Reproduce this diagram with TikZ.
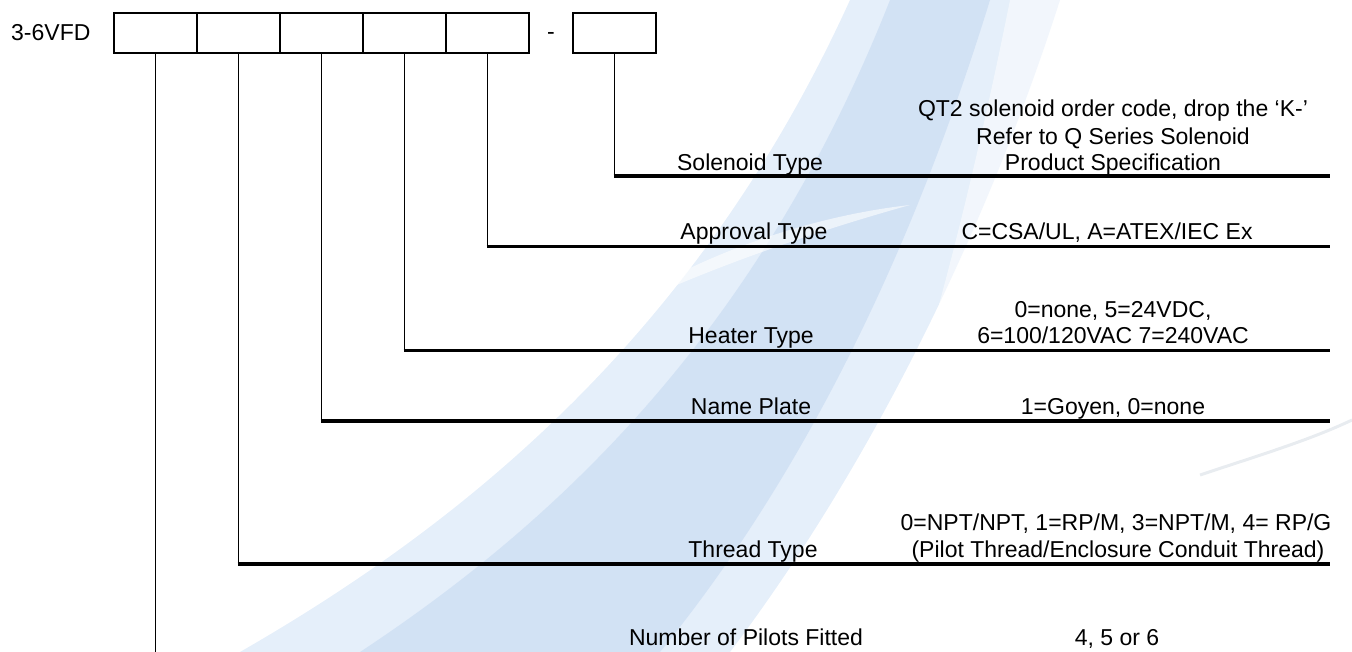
\documentclass[tikz,border=0pt]{standalone}
\usepackage{fontspec}
\setmainfont{Liberation Sans}
\definecolor{swA}{RGB}{226,237,249}
\definecolor{swB}{RGB}{206,223,244}
\definecolor{swC}{RGB}{232,236,240}
\begin{document}
\begin{tikzpicture}[x=1pt,y=-1pt,
  box/.style={draw,line width=2.8pt,minimum width=83pt,minimum height=40pt,inner sep=0pt},
  lead/.style={line width=1.6pt},
  rail/.style={line width=3.2pt},
  lbl/.style={font=\fontsize{23}{27}\selectfont,inner sep=0pt,anchor=base},
]
\useasboundingbox (0,0) rectangle (1352,652);
% watermark swoosh
\fill[swA,opacity=0.9]
  (240,652) .. controls (470,520) and (700,330) .. (850,0)
  -- (1060,0) .. controls (980,250) and (860,480) .. (730,652) -- cycle;
\fill[swB,opacity=0.8]
  (360,652) .. controls (560,520) and (760,330) .. (890,0)
  -- (990,0) .. controls (910,260) and (800,480) .. (660,652) -- cycle;
\fill[white,opacity=0.6]
  (600,320) .. controls (700,250) and (820,215) .. (910,205)
  .. controls (820,230) and (700,270) .. (600,320) -- cycle;
\fill[white,opacity=0.5]
  (820,652) .. controls (880,520) and (950,300) .. (1010,0)
  -- (1060,0) .. controls (1000,300) and (930,520) .. (870,652) -- cycle;
\draw[swC,line width=3pt]
  (1200,475) .. controls (1260,455) and (1310,440) .. (1352,420);

% boxes
\foreach \i in {1,...,5} \node[box] (b\i) at ({114+83*(\i-0.5)},33) {};
\node[box] (b6) at (614.5,33) {};
\node[lbl,anchor=west] (code) at (11,33) {3-6VFD};
\node[lbl] (dash) at (551,40) {-};

% rail ends
\coordinate (r6) at (1330,176);
\coordinate (r5) at (1330,246.5);
\coordinate (r4) at (1330,350.5);
\coordinate (r3) at (1330,421);
\coordinate (r2) at (1330,564);
\coordinate (r1) at (155.5,652);

\draw[lead] (b6.south) -- (b6.south |- r6);
\draw[rail] ([xshift=-0.8pt]b6.south |- r6) -- (r6);
\draw[lead] (b5.south) -- (b5.south |- r5);
\draw[rail] ([xshift=-0.8pt]b5.south |- r5) -- (r5);
\draw[lead] (b4.south) -- (b4.south |- r4);
\draw[rail] ([xshift=-0.8pt]b4.south |- r4) -- (r4);
\draw[lead] (b3.south) -- (b3.south |- r3);
\draw[rail] ([xshift=-0.8pt]b3.south |- r3) -- (r3);
\draw[lead] (b2.south) -- (b2.south |- r2);
\draw[rail] ([xshift=-0.8pt]b2.south |- r2) -- (r2);
\draw[lead] (b1.south) -- (r1);

% labels
\node[lbl] (t6) at (750,171) {Solenoid Type};
\node[lbl] (v6a) at (1113,117) {QT2 solenoid order code, drop the ‘K-’};
\node[lbl] (v6b) at (1113,145) {Refer to Q Series Solenoid};
\node[lbl] (v6c) at (1113,171) {Product Specification};
\node[lbl] (t5) at (754,240) {Approval Type};
\node[lbl] (v5) at (1107,240) {C=CSA/UL, A=ATEX/IEC Ex};
\node[lbl] (t4) at (751,344) {Heater Type};
\node[lbl] (v4a) at (1113,317) {0=none, 5=24VDC,};
\node[lbl] (v4b) at (1113,344) {6=100/120VAC 7=240VAC};
\node[lbl] (t3) at (751,414) {Name Plate};
\node[lbl] (v3) at (1113,414) {1=Goyen, 0=none};
\node[lbl] (t2) at (753,557) {Thread Type};
\node[lbl] (v2a) at (1116,530) {0=NPT/NPT, 1=RP/M, 3=NPT/M, 4= RP/G};
\node[lbl] (v2b) at (1118,557) {(Pilot Thread/Enclosure Conduit Thread)};
\node[lbl] (t1) at (746,645) {Number of Pilots Fitted};
\node[lbl] (v1) at (1117,645) {4, 5 or 6};
\end{tikzpicture}
\end{document}
